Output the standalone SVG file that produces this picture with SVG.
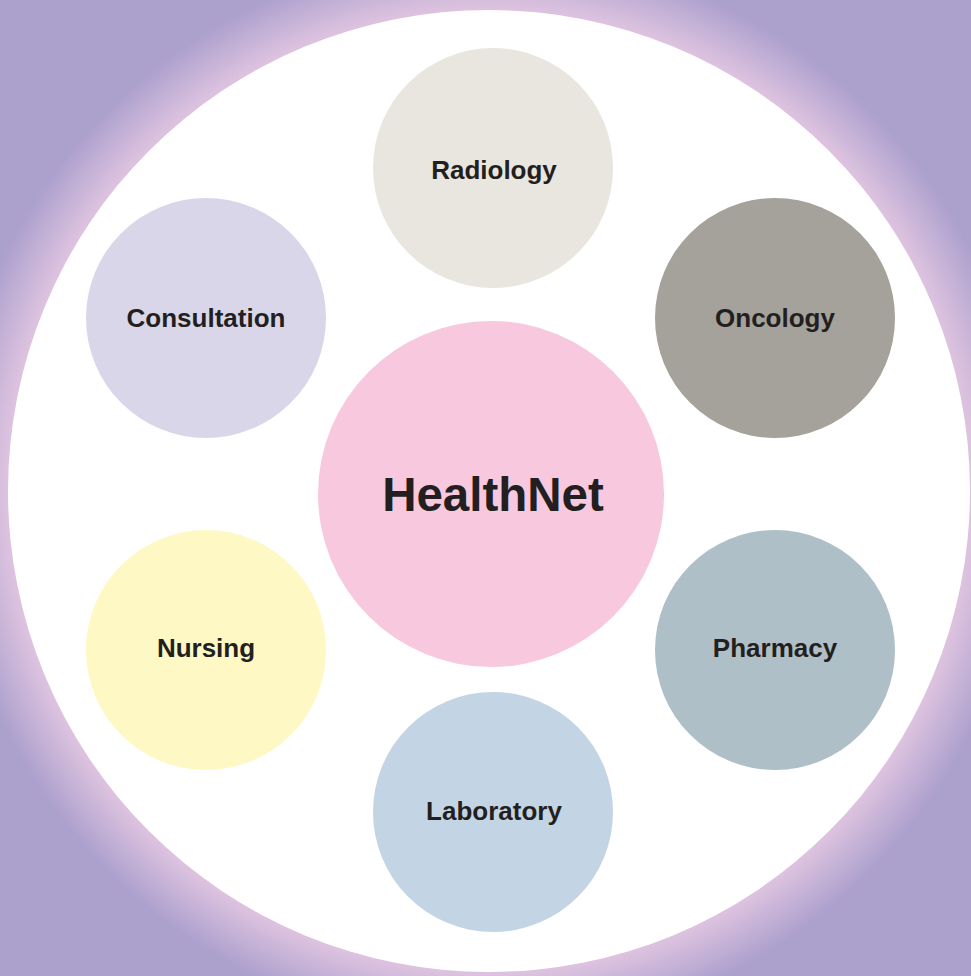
<svg xmlns="http://www.w3.org/2000/svg" width="971" height="976" viewBox="0 0 971 976">
<defs>
<radialGradient id="bg" gradientUnits="userSpaceOnUse" cx="489" cy="491" r="700">
<stop offset="0" stop-color="#DCC2DF"/>
<stop offset="0.69" stop-color="#DCC2DF"/>
<stop offset="0.77" stop-color="#ACA0CD"/>
<stop offset="1" stop-color="#ACA0CD"/>
</radialGradient>
<style>
.lbl{font-family:"Liberation Sans",Arial,sans-serif;font-weight:bold;font-size:26px;fill:#231F20;text-anchor:middle}
.hub{font-family:"Liberation Sans",Arial,sans-serif;font-weight:bold;font-size:47.5px;fill:#231F20;text-anchor:middle}
</style>
</defs>
<rect width="971" height="976" fill="url(#bg)"/>
<circle cx="489" cy="491" r="481" fill="#FFFFFF"/>
<g id="connectors"/>
<g id="radiology"><circle cx="493" cy="168" r="120" fill="#E9E6DF"/><text class="lbl" x="494" y="179">Radiology</text></g>
<g id="consultation"><circle cx="206" cy="318" r="120" fill="#DAD6EA"/><text class="lbl" x="206" y="327">Consultation</text></g>
<g id="oncology"><circle cx="775" cy="318" r="120" fill="#A4A29A"/><text class="lbl" x="775" y="327">Oncology</text></g>
<g id="healthnet"><circle cx="491" cy="494" r="173" fill="#F7C8DE"/><text class="hub" x="493" y="511">HealthNet</text></g>
<g id="nursing"><circle cx="206" cy="650" r="120" fill="#FEF8C4"/><text class="lbl" x="206" y="657">Nursing</text></g>
<g id="pharmacy"><circle cx="775" cy="650" r="120" fill="#AFBFC8"/><text class="lbl" x="775" y="657">Pharmacy</text></g>
<g id="laboratory"><circle cx="493" cy="812" r="120" fill="#C3D5E4"/><text class="lbl" x="494" y="820">Laboratory</text></g>
</svg>
